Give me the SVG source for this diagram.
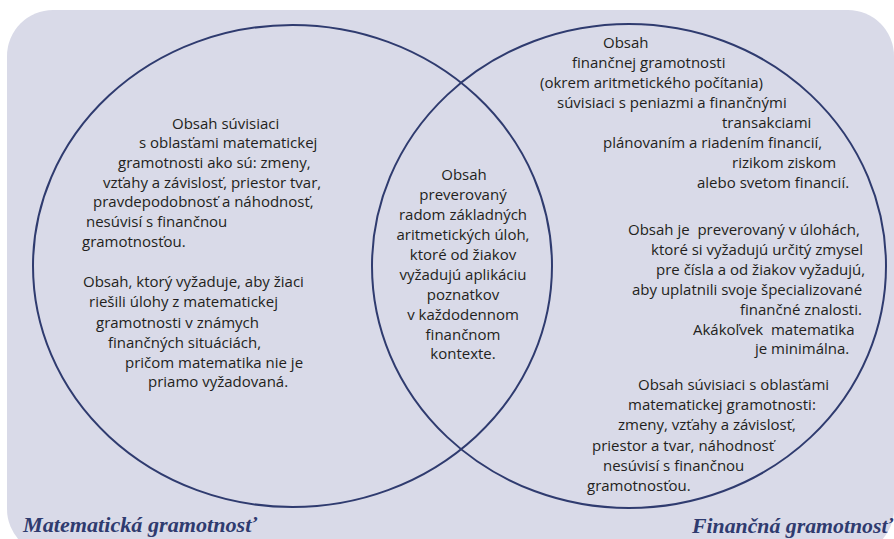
<svg xmlns="http://www.w3.org/2000/svg" width="894" height="539" viewBox="0 0 894 539">
<style>
.bg{fill:#d9dae8}
.ring{fill:none;stroke:#2f3b6f;stroke-width:2}
.t{font-family:"Open Sans","Noto Sans",sans-serif;font-size:15px;fill:#231f20;white-space:pre}
.lbl{font-family:"Liberation Serif","DejaVu Serif",serif;font-style:italic;font-weight:bold;font-size:22px;fill:#2f3b6f}
.c{text-anchor:middle}
</style>
<rect class="bg" x="7" y="10" width="887" height="545" rx="46"/>
<g id="math-literacy">
<ellipse class="ring" cx="292.5" cy="266" rx="259.5" ry="241"/>
<text class="t" x="172" y="129">Obsah súvisiaci</text>
<text class="t" x="139" y="148">s oblasťami matematickej</text>
<text class="t" x="118" y="168">gramotnosti ako sú: zmeny,</text>
<text class="t" x="103" y="188">vzťahy a závislosť, priestor tvar,</text>
<text class="t" x="93" y="207">pravdepodobnosť a náhodnosť,</text>
<text class="t" x="86" y="227">nesúvisí s finančnou</text>
<text class="t" x="82" y="247">gramotnosťou.</text>
<text class="t" x="83" y="287">Obsah, ktorý vyžaduje, aby žiaci</text>
<text class="t" x="89" y="307">riešili úlohy z matematickej</text>
<text class="t" x="96" y="328">gramotnosti v známych</text>
<text class="t" x="108" y="348">finančných situáciách,</text>
<text class="t" x="125" y="368">pričom matematika nie je</text>
<text class="t" x="148" y="387">priamo vyžadovaná.</text>
<text class="lbl" x="23" y="532" textLength="234" lengthAdjust="spacingAndGlyphs">Matematická gramotnosť</text>
</g>
<g id="financial-literacy">
<ellipse class="ring" cx="629" cy="266" rx="257" ry="242"/>
<text class="t" x="603" y="48">Obsah</text>
<text class="t" x="572" y="68">finančnej gramotnosti</text>
<text class="t" x="540" y="88">(okrem aritmetického počítania)</text>
<text class="t" x="557" y="108">súvisiaci s peniazmi a finančnými</text>
<text class="t" x="722" y="128">transakciami</text>
<text class="t" x="603" y="148">plánovaním a riadením financií,</text>
<text class="t" x="732" y="168">rizikom ziskom</text>
<text class="t" x="697" y="188">alebo svetom financií.</text>
<text class="t" x="628" y="235">Obsah je  preverovaný v úlohách,</text>
<text class="t" x="651" y="255">ktoré si vyžadujú určitý zmysel</text>
<text class="t" x="656" y="275">pre čísla a od žiakov vyžadujú,</text>
<text class="t" x="632" y="295">aby uplatnili svoje špecializované</text>
<text class="t" x="740" y="315">finančné znalosti.</text>
<text class="t" x="693" y="335">Akákoľvek  matematika</text>
<text class="t" x="755" y="354">je minimálna.</text>
<text class="t" x="638" y="390">Obsah súvisiaci s oblasťami</text>
<text class="t" x="628" y="410">matematickej gramotnosti:</text>
<text class="t" x="618" y="430">zmeny, vzťahy a závislosť,</text>
<text class="t" x="592" y="451">priestor a tvar, náhodnosť</text>
<text class="t" x="603" y="471">nesúvisí s finančnou</text>
<text class="t" x="587" y="491">gramotnosťou.</text>
<text class="lbl" x="692" y="533" textLength="201" lengthAdjust="spacingAndGlyphs">Finančná gramotnosť</text>
</g>
<g id="overlap">
<text class="t c" x="464" y="180">Obsah</text>
<text class="t c" x="463" y="200">preverovaný</text>
<text class="t c" x="463" y="220">radom základných</text>
<text class="t c" x="463" y="240">aritmetických úloh,</text>
<text class="t c" x="463" y="260">ktoré od žiakov</text>
<text class="t c" x="463" y="280">vyžadujú aplikáciu</text>
<text class="t c" x="463" y="300">poznatkov</text>
<text class="t c" x="463" y="320">v každodennom</text>
<text class="t c" x="463" y="340">finančnom</text>
<text class="t c" x="463" y="359">kontexte.</text>
</g>
</svg>
